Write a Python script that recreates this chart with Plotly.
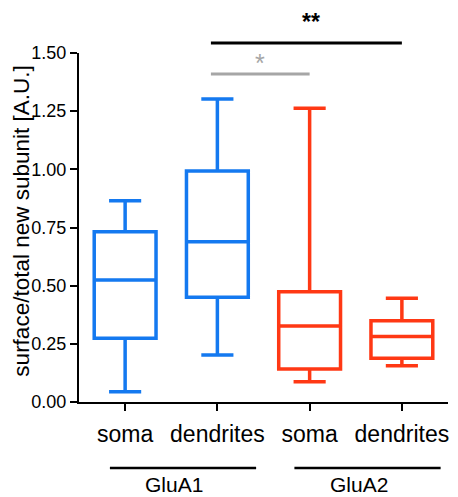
import plotly.graph_objects as go

categories = ["soma", "dendrites", "soma", "dendrites"]
groups = ["GluA1", "GluA1", "GluA2", "GluA2"]
mins = [0.044, 0.202, 0.087, 0.156]
q1s = [0.274, 0.450, 0.142, 0.188]
medians = [0.524, 0.689, 0.327, 0.281]
q3s = [0.732, 0.993, 0.474, 0.349]
maxs = [0.865, 1.302, 1.262, 0.446]
colors = ["#1479f0", "#1479f0", "#ff3814", "#ff3814"]
y_ticks = [0.0, 0.25, 0.5, 0.75, 1.0, 1.25, 1.5]
y_title = "surface/total new subunit [A.U.]"

# significance comparisons: (from index, to index, bar height, label, color, bold)
sig = [(1, 3, 1.543, "**", "black", True), (1, 2, 1.41, "*", "#a6a6a6", False)]

YMAX = 1.5
XMIN, XMAX = -0.5, 3.5

def px(x):
    return (x - XMIN) / (XMAX - XMIN)

def py(y):
    return y / YMAX

FONT = "Liberation Sans, Arial"

fig = go.Figure()
for i in range(len(categories)):
    fig.add_trace(go.Box(
        x=[i], q1=[q1s[i]], median=[medians[i]], q3=[q3s[i]],
        lowerfence=[mins[i]], upperfence=[maxs[i]],
        width=0.67, whiskerwidth=0.52,
        line=dict(color=colors[i], width=3.5),
        fillcolor="rgba(0,0,0,0)",
        boxpoints=False, showlegend=False, hoverinfo="skip",
    ))

shapes = []
annotations = []
for a, b, h, lab, col, bold in sig:
    x0, x1 = px(a - 0.07), px(b)
    shapes.append(dict(type="line", xref="paper", yref="paper",
                       x0=x0, x1=x1, y0=py(h), y1=py(h),
                       line=dict(color=col, width=3)))
    txt = "<b>" + lab + "</b>" if bold else lab
    if bold:
        # top label: keep its text box inside the figure
        annotations.append(dict(xref="paper", yref="paper", x=(x0 + x1) / 2 + 0.013,
                                xanchor="center", y=1.0 + 45 / 349, yanchor="top",
                                borderpad=0, text=txt, showarrow=False,
                                font=dict(size=23, color=col, family=FONT)))
    else:
        annotations.append(dict(xref="paper", yref="paper", x=(x0 + x1) / 2,
                                xanchor="center", y=py(h) - 0.012, yanchor="bottom",
                                borderpad=0, text=txt, showarrow=False,
                                font=dict(size=25, color=col, family=FONT)))

# group lines and labels
for g in ["GluA1", "GluA2"]:
    idx = [i for i, gg in enumerate(groups) if gg == g]
    lo, hi = min(idx), max(idx)
    shapes.append(dict(type="line", xref="paper", yref="paper",
                       x0=px(lo - 0.165), x1=px(hi + 0.42), y0=-0.189, y1=-0.189,
                       line=dict(color="black", width=2.5)))
    annotations.append(dict(xref="paper", yref="paper",
                            x=px((lo + hi) / 2 + 0.035), xanchor="center",
                            y=-95 / 349, yanchor="bottom", borderpad=0,
                            text=g, showarrow=False,
                            font=dict(size=21, color="black", family=FONT)))

# y-axis title as rotated annotation
annotations.append(dict(xref="paper", yref="paper", x=-0.157, y=0.517,
                        xanchor="center", yanchor="middle", textangle=-90,
                        text=y_title, showarrow=False,
                        font=dict(size=22.5, color="black", family=FONT)))

# page body has an 8px margin, so the figure is shrunk/shifted to compensate
fig.update_layout(
    width=450, height=489,
    margin=dict(l=71, r=10, t=45, b=95),
    plot_bgcolor="white", paper_bgcolor="white",
    font=dict(family=FONT, color="black"),
    shapes=shapes, annotations=annotations,
    xaxis=dict(range=[XMIN, XMAX], tickvals=list(range(len(categories))),
               ticktext=categories, showline=True, linecolor="black", linewidth=2,
               ticks="outside", ticklen=7, tickwidth=2, tickcolor="black",
               showgrid=False, zeroline=False, tickfont=dict(size=23),
               ticklabelstandoff=3, automargin=False),
    yaxis=dict(range=[0, YMAX], tickvals=y_ticks, tickformat=".2f",
               showline=True, linecolor="black", linewidth=2,
               ticks="outside", ticklen=7, tickwidth=2, tickcolor="black",
               showgrid=False, zeroline=False, tickfont=dict(size=18),
               automargin=False, ticklabelstandoff=0),
)

fig.write_html("out.html")
